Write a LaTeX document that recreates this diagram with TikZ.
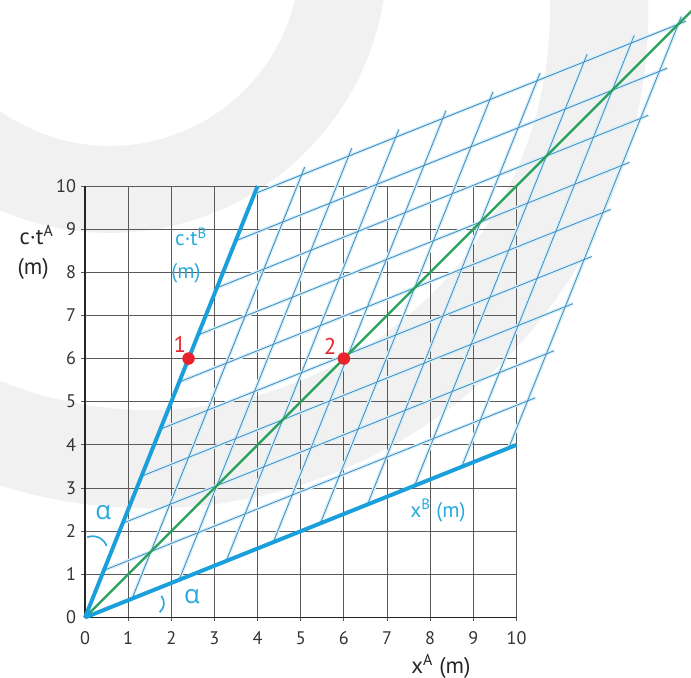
\documentclass[tikz,border=0pt]{standalone}
\usepackage{fontspec}
\setmainfont{PT Sans}
\newfontfamily\grkfont{Open Sans}
\definecolor{wm}{RGB}{241,241,241}
\definecolor{axgray}{RGB}{90,90,90}
\definecolor{bthick}{RGB}{25,160,220}
\definecolor{bthin}{RGB}{60,135,185}
\definecolor{bglow}{RGB}{212,238,250}
\definecolor{grn}{RGB}{40,160,90}
\definecolor{redpt}{RGB}{232,35,45}
\definecolor{bluetext}{RGB}{40,170,220}
\tikzset{
  gridA/.style={draw=axgray, line width=0.55pt},
  axisA/.style={draw=black!85, line width=1.1pt},
  skewglow/.style={draw=bglow, line width=2.2pt},
  skewline/.style={draw=bthin, line width=0.5pt},
  thickax/.style={draw=bthick, line width=2.6pt},
  worldline/.style={draw=grn, line width=1.6pt},
  ticklab/.style={inner sep=0pt, text=black!80, font=\fontsize{12}{14}\selectfont},
  titlelab/.style={inner sep=0pt, text=black!85, font=\fontsize{15}{17}\selectfont},
  bluelab/.style={inner sep=0pt, text=bluetext, font=\fontsize{14}{16}\selectfont},
  alphalab/.style={inner sep=0pt, text=bluetext, font=\grkfont\fontsize{17}{19}\selectfont},
  eventlab/.style={inner sep=0pt, text=redpt, font=\fontsize{15}{17}\selectfont},
  eventdot/.style={circle, fill=redpt, inner sep=0pt, minimum size=0.29cm},
  anglemark/.style={draw=bluetext, line width=1.1pt}
}
\begin{document}
\begin{tikzpicture}[x=1cm,y=1cm]
\useasboundingbox (-1.970,-1.402) rectangle (14.044,14.310);
% watermark
\begin{scope}
\clip (-1.970,-1.402) rectangle (14.044,14.310);
\fill[wm, even odd rule] (0.579,15.331) circle (6.419) (0.579,15.331) circle (4.403);
\fill[wm, even odd rule] (1.506,14.079) circle (11.55) (1.506,14.079) circle (9.270);
\end{scope}
% coordinates
\coordinate (O) at (0,0);
\coordinate (TB) at (4,10);
\coordinate (XB) at (10,4);
\coordinate (D) at (14.2,14.2);
% A grid
\foreach \k in {1,...,10} {
  \draw[gridA] (\k,0) -- (\k,10);
  \draw[gridA] (0,\k) -- (10,\k);
  \draw[gridA] (\k,0) -- (\k,-0.09);
  \draw[gridA] (0,\k) -- (-0.09,\k);
}
\draw[axisA] (0,10) -- (O) -- (10,0);
% skew grid glow
\foreach \k in {1,...,9} {
  \draw[skewglow] (0.43644*\k, 1.09109*\k) -- ++(10,4);
  \draw[skewglow] (1.09109*\k, 0.43644*\k) -- ++(4,10);
}
\foreach \k in {1,...,9} {
  \draw[skewline] (0.43644*\k, 1.09109*\k) -- ++(10,4);
  \draw[skewline] (1.09109*\k, 0.43644*\k) -- ++(4,10);
}
% world line
\draw[worldline] (O) -- (D);
% B axes
\draw[thickax] (O) -- (TB);
\draw[thickax] (O) -- (XB);
% angle marks
\draw[anglemark] (0.05,1.86) to[bend left=45] (0.50,1.66);
\draw[anglemark] (1.73,0.12) to[bend right=45] (1.77,0.50);
\node[alphalab] (a1) at (0.42,2.42) {α};
\node[alphalab] (a2) at (2.48,0.49) {α};
% tick labels
\foreach \k in {0,...,10} {
  \node[ticklab, anchor=east] (yl\k) at (-0.2,\k) {\k};
  \node[ticklab, anchor=north] (xl\k) at (\k,-0.33) {\k};
}
% titles
\node[titlelab] (ctA) at (-1.12,8.86) {c·t\textsuperscript{A}};
\node[titlelab] (mA) at (-1.2,8.07) {(m)};
\node[titlelab] (xA) at (8.25,-1.14) {x\textsuperscript{A} (m)};
\node[bluelab] (ctB) at (2.46,8.82) {c·t\textsuperscript{B}};
\node[bluelab] (mB) at (2.34,7.98) {(m)};
\node[bluelab] (xBl) at (8.18,2.47) {x\textsuperscript{B} (m)};
% events
\node[eventdot] (e1) at (2.4,6) {};
\node[eventdot] (e2) at (6,6) {};
\node[eventlab] (l1) at (2.20,6.32) {1};
\node[eventlab] (l2) at (5.68,6.29) {2};
\end{tikzpicture}
\end{document}
